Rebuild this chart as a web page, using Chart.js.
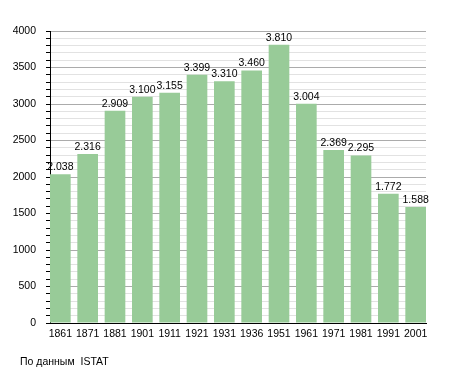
<!DOCTYPE html>
<html>
<head>
<meta charset="utf-8">
<script src="https://cdn.jsdelivr.net/npm/chart.js@4/dist/chart.umd.min.js"></script>
<style>
  html, body { margin: 0; padding: 0; background: #fff; }
  #wrap { width: 455px; height: 373px; position: relative; }
</style>
</head>
<body>
<div id="wrap"><canvas id="BarChart1" width="455" height="373"></canvas></div>
<script>
// census years and population
const years = ['1861', '1871', '1881', '1901', '1911', '1921', '1931', '1936', '1951', '1961', '1971', '1981', '1991', '2001'];
const population = [2038, 2316, 2909, 3100, 3155, 3399, 3310, 3460, 3810, 3004, 2369, 2295, 1772, 1588];
const sourceNote = 'По данным  ISTAT';

const FONT = 'Liberation Sans, Arial, sans-serif';

// 2038 -> "2.038"
const fmt = v => String(v).replace(/\B(?=(\d{3})+(?!\d))/g, '.');

// bars sit flush with both plot edges, so the x scale runs a bit past the first/last index
const edge = 0.378;

// value labels above the bars
const valueLabels = {
    id: 'valueLabels',
    afterDatasetsDraw(chart) {
        const ctx = chart.ctx;
        const meta = chart.getDatasetMeta(0);
        ctx.save();
        ctx.font = '10.5px ' + FONT;
        ctx.fillStyle = '#000';
        ctx.textAlign = 'center';
        ctx.textBaseline = 'alphabetic';
        meta.data.forEach((bar, i) => {
            ctx.fillText(fmt(population[i]), bar.x, bar.y - 4);
        });
        ctx.restore();
    }
};

// source line at the bottom
const footNote = {
    id: 'footNote',
    afterDraw(chart) {
        const ctx = chart.ctx;
        ctx.save();
        ctx.font = '10.5px ' + FONT;
        ctx.fillStyle = '#000';
        ctx.textAlign = 'left';
        ctx.textBaseline = 'middle';
        ctx.fillText(sourceNote, 20, 362);
        ctx.restore();
    }
};

const ctx1 = document.getElementById('BarChart1');
const BarChart1 = new Chart(ctx1, {
    type: 'bar',
    data: {
        datasets: [{
            backgroundColor: '#98cb98',
            data: population.map((v, i) => ({x: i, y: v})),
            barPercentage: 0.756,
            categoryPercentage: 1
        }]
    },
    options: {
        responsive: false,
        animation: false,
        devicePixelRatio: 1,
        layout: {
            padding: {top: 31, right: 29, left: 0, bottom: 0}
        },
        plugins: {
            legend: {display: false},
            tooltip: {enabled: false}
        },
        scales: {
            x: {
                type: 'linear',
                min: -edge,
                max: years.length - 1 + edge,
                offset: false,
                grid: {display: false, drawTicks: false},
                border: {color: '#000', width: 1},
                afterBuildTicks: scale => {
                    scale.ticks = years.map((_, i) => ({value: i}));
                },
                ticks: {
                    color: '#000',
                    font: {family: FONT, size: 10.5},
                    padding: 5,
                    maxRotation: 0,
                    autoSkip: false,
                    callback: v => years[v]
                },
                afterFit: scale => { scale.height = 373 - 323; }
            },
            y: {
                min: 0,
                max: 4000,
                grid: {
                    color: c => (c.tick.value % 500 === 0 ? '#ababab' : '#e2e2e2'),
                    tickColor: '#000',
                    tickLength: 4,
                    drawTicks: true
                },
                border: {color: '#000', width: 1},
                ticks: {
                    stepSize: 100,
                    autoSkip: false,
                    color: '#000',
                    font: {family: FONT, size: 10.5},
                    padding: 10,
                    callback: v => (v % 500 === 0 ? v : '')
                },
                afterFit: scale => { scale.width = 50; }
            }
        }
    },
    plugins: [valueLabels, footNote]
});
</script>
</body>
</html>
